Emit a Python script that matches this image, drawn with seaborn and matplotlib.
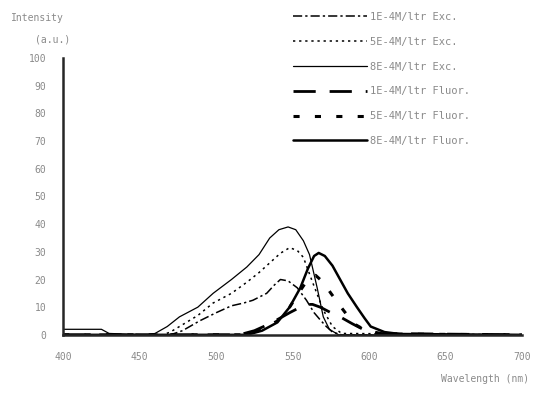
import matplotlib
matplotlib.use("Agg")
import matplotlib.pyplot as plt
import seaborn as sns

# excitation spectra (thin lines)
wl_exc1 = [400, 470, 478, 489, 500, 510, 518, 524, 533, 538, 542, 547, 553, 559, 564, 568, 572, 576, 582, 700]
exc1 = [0, 0, 1.5, 5, 8, 10.5, 11.5, 12.5, 15, 18, 20, 19.5, 17, 12.5, 8, 5.4, 3, 1, 0, 0]

wl_exc5 = [400, 465, 470, 476, 488, 498, 510, 520, 528, 535, 542, 548, 553, 557, 563, 570, 576, 582, 700]
exc5 = [0, 0, 1, 3, 7, 11.5, 15, 19, 22.5, 26, 29.5, 31.5, 30.5, 28, 19, 9, 3, 0.5, 0]

wl_exc8 = [400, 425, 430, 455, 460, 468, 476, 488, 498, 510, 520, 528, 535, 541, 547, 552, 557, 561, 566, 570, 574, 580, 700]
exc8 = [2, 2, 0.5, 0, 0.5, 3, 6.5, 10, 15, 20, 24.5, 29, 35, 38, 39, 38, 34, 29, 17, 6.5, 2, 0, 0]

# fluorescence spectra (bold lines)
wl_fl1 = [400, 515, 525, 531, 540, 548, 555, 560, 563, 568, 575, 581, 589, 596, 605, 700]
fl1 = [0, 0, 1.5, 3, 5.5, 8, 10, 11, 11, 10, 8, 6.5, 4, 2, 0.5, 0]

wl_fl5 = [400, 520, 530, 540, 548, 555, 561, 565, 570, 575, 583, 590, 598, 610, 700]
fl5 = [0, 0, 2, 5, 10, 16, 21, 21.5, 19, 15, 9, 4, 1.5, 0.3, 0]

wl_fl8 = [400, 520, 530, 540, 548, 555, 560, 564, 567, 571, 576, 581, 586, 592, 597, 601, 610, 620, 700]
fl8 = [0, 0, 1.5, 4.5, 10, 17, 24, 28.5, 29.6, 28.5, 25, 20, 15, 10, 6, 3, 1, 0.3, 0]

labels = ["1E-4M/ltr Exc.", "5E-4M/ltr Exc.", "8E-4M/ltr Exc.",
          "1E-4M/ltr Fluor.", "5E-4M/ltr Fluor.", "8E-4M/ltr Fluor."]
xticks = [400, 450, 500, 550, 600, 650, 700]
yticks = [0, 10, 20, 30, 40, 50, 60, 70, 80, 90, 100]

sns.set_style("white")
plt.rcParams["font.family"] = ["DejaVu Sans Mono", "DejaVu Sans"]
grey = "#8a8a8a"

fig = plt.figure(figsize=(5.4, 3.93), dpi=100)
ax = fig.add_axes([0.117, 0.148, 0.85, 0.704])

series = [
    (wl_exc1, exc1, (0, (6, 2, 1.5, 2)), 1.1),
    (wl_exc5, exc5, (0, (1.5, 2.5)), 1.1),
    (wl_exc8, exc8, "-", 0.9),
    (wl_fl1, fl1, (0, (8, 5)), 2.0),
    (wl_fl5, fl5, (0, (2, 5)), 2.2),
    (wl_fl8, fl8, "-", 1.8),
]
for (x, y, ls, lw), lab in zip(series, labels):
    sns.lineplot(x=x, y=y, ax=ax, color="black", linestyle=ls, linewidth=lw, label=lab)

ax.set_xlim(400, 700)
ax.set_ylim(0, 100)
ax.set_xticks(xticks)
ax.set_yticks(yticks)
ax.set_xticklabels([str(t) for t in xticks], color=grey, fontsize=7)
ax.set_yticklabels([str(t) for t in yticks], color=grey, fontsize=7)
ax.tick_params(axis="y", direction="in", length=4, width=1.5, pad=12, colors="black", labelcolor=grey)
ax.tick_params(axis="x", direction="in", length=2, width=1, pad=12, colors="black", labelcolor=grey)
for s in ["top", "right"]:
    ax.spines[s].set_visible(False)
ax.spines["left"].set_linewidth(1.8)
ax.spines["bottom"].set_linewidth(1.8)
ax.set_xlabel("")
ax.set_ylabel("")

fig.text(0.02, 0.955, "Intensity", color=grey, fontsize=7, ha="left", va="center")
fig.text(0.065, 0.90, "(a.u.)", color=grey, fontsize=7, ha="left", va="center")
fig.text(0.98, 0.035, "Wavelength (nm)", color=grey, fontsize=7, ha="right", va="center")

leg = ax.legend(loc="upper left", bbox_to_anchor=(0.535, 0.98), bbox_transform=fig.transFigure,
                frameon=False, fontsize=7.5, handlelength=7.1, handletextpad=0.3,
                labelspacing=1.42, borderaxespad=0)
for t in leg.get_texts():
    t.set_color(grey)

fig.savefig("out.png", dpi=100)
